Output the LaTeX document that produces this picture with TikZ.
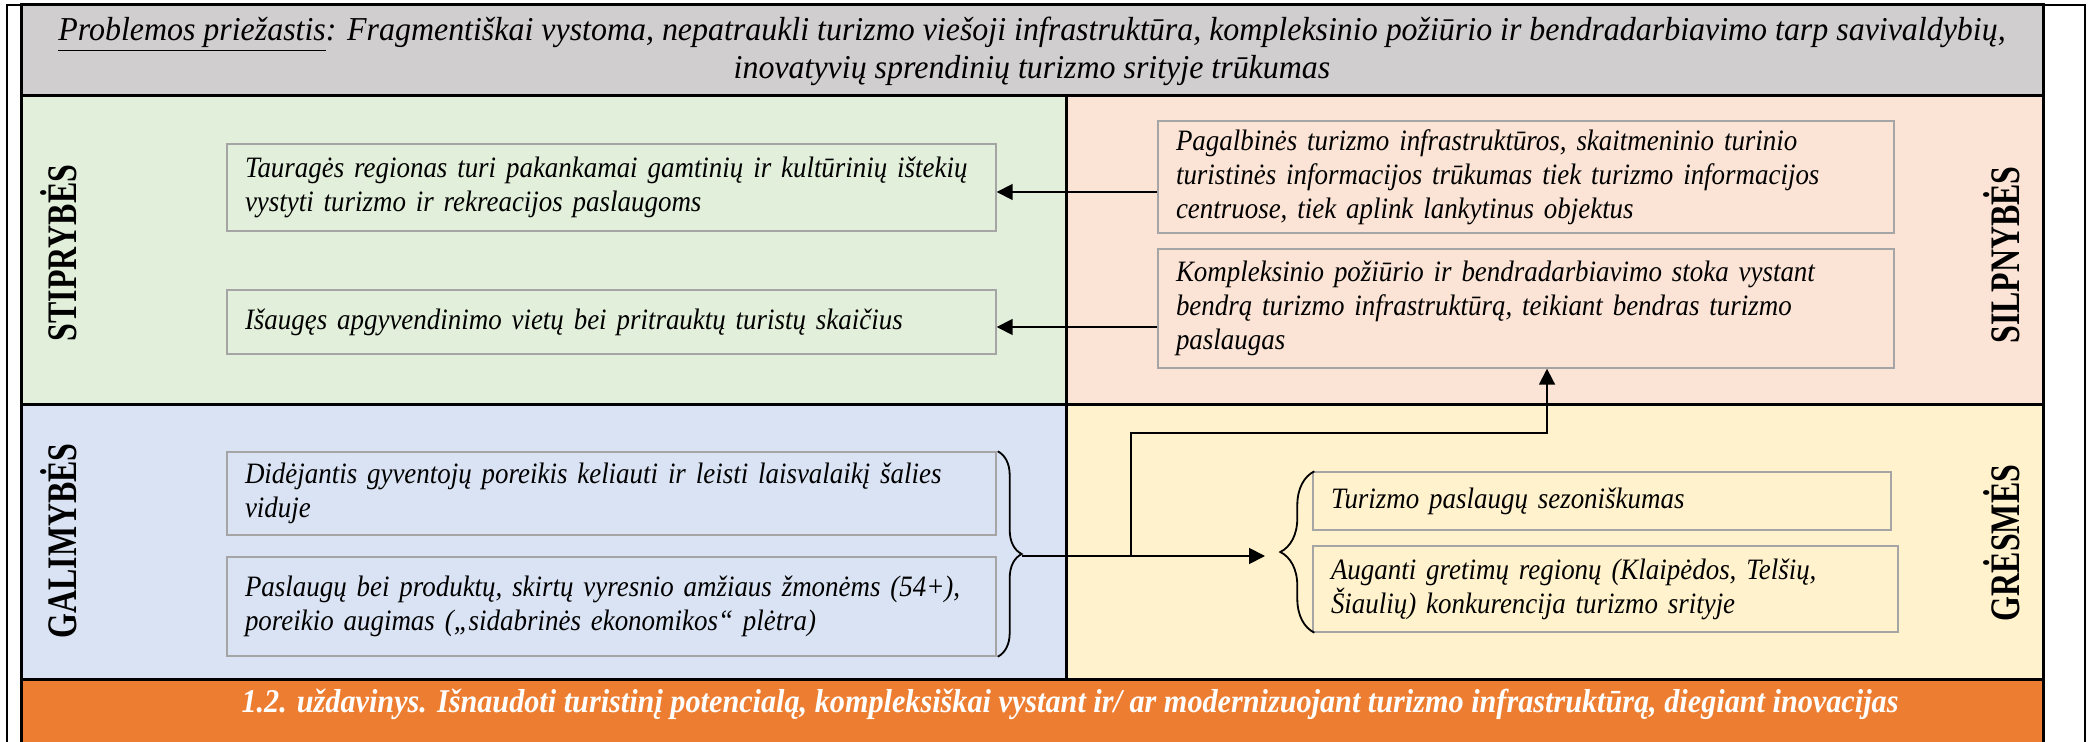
\documentclass[tikz,border=0pt]{standalone}
\usepackage{fontspec}
\setmainfont{Liberation Serif}
\newfontfamily\bodyfont{Liberation Serif}[FakeStretch=0.91]
\newfontfamily\titlefont{Liberation Serif}[FakeStretch=0.956]
\newfontfamily\labelfont{Liberation Serif}[FakeStretch=0.76]
\usetikzlibrary{arrows.meta,decorations.pathreplacing}
\definecolor{titlegray}{RGB}{208,206,206}
\definecolor{sgreen}{RGB}{226,239,218}
\definecolor{wpink}{RGB}{251,228,213}
\definecolor{oblue}{RGB}{218,227,243}
\definecolor{tyellow}{RGB}{255,242,204}
\definecolor{borange}{RGB}{237,125,49}
\definecolor{boxgray}{RGB}{165,165,165}
\begin{document}
\begin{tikzpicture}[x=0.5pt,y=-0.5pt,
  region/.style={draw=black,line width=1.5pt},
  item/.style={draw=boxgray,line width=0.7pt,inner xsep=9pt,inner ysep=0pt,align=left,
    font=\bodyfont\itshape\fontsize{14.8}{17}\selectfont},
  vlabel/.style={rotate=90,font=\labelfont\bfseries\fontsize{21}{21}\selectfont},
  conn/.style={line width=0.9pt},
  arr/.style={conn,-{Triangle[length=8pt,width=8pt]}},
  bracestyle/.style={line width=0.9pt,decorate,decoration={brace,amplitude=#1}},
]
\useasboundingbox (0,0) rectangle (2096,742);
\fill[white] (0,0) rectangle (2096,742);
% regions
\draw[region,fill=titlegray] (21,5) rectangle (2043,96);
\draw[region,fill=sgreen] (21,96) rectangle (1066,405);
\draw[region,fill=wpink] (1066,96) rectangle (2043,405);
\draw[region,fill=oblue] (21,405) rectangle (1066,679);
\draw[region,fill=tyellow] (1066,405) rectangle (2043,679);
\draw[region,fill=borange] (21,679) rectangle (2043,760);
\draw[line width=0.9pt] (7,760) -- (7,5) -- (2085,5) -- (2085,760);
% title
\node[align=center,font=\titlefont\itshape\fontsize{16.7}{19}\selectfont] (title) at (1032,51)
 {\underline{Problemos priežastis}: Fragmentiškai vystoma, nepatraukli turizmo viešoji infrastruktūra, kompleksinio požiūrio ir bendradarbiavimo tarp savivaldybių,\\
 inovatyvių sprendinių turizmo srityje trūkumas};
% labels
\node[vlabel] (ls) at (59,253) {STIPRYBĖS};
\node[vlabel] (lg) at (59,541) {GALIMYBĖS};
\node[vlabel] (lw) at (2002,255) {SILPNYBĖS};
\node[vlabel] (lt) at (2002,543) {GRĖSMĖS};
% items
\node[item,minimum width=384.5pt,minimum height=43.5pt,text width=366.5pt] (g1) at (611.5,187.5)
 {Tauragės regionas turi pakankamai gamtinių ir kultūrinių ištekių\\vystyti turizmo ir rekreacijos paslaugoms};
\node[item,minimum width=384.5pt,minimum height=32pt,text width=366.5pt] (g2) at (611.5,322)
 {Išaugęs apgyvendinimo vietų bei pritrauktų turistų skaičius};
\node[item,minimum width=368pt,minimum height=56pt,text width=350pt] (p1) at (1526,177)
 {Pagalbinės turizmo infrastruktūros, skaitmeninio turinio\\turistinės informacijos trūkumas tiek turizmo informacijos\\centruose, tiek aplink lankytinus objektus};
\node[item,minimum width=368pt,minimum height=59.5pt,text width=350pt] (p2) at (1526,308.5)
 {Kompleksinio požiūrio ir bendradarbiavimo stoka vystant\\bendrą turizmo infrastruktūrą, teikiant bendras turizmo\\paslaugas};
\node[item,minimum width=384.5pt,minimum height=41.5pt,text width=366.5pt] (b1) at (611.5,493.5)
 {Didėjantis gyventojų poreikis keliauti ir leisti laisvalaikį šalies\\viduje};
\node[item,minimum width=384.5pt,minimum height=49.5pt,text width=366.5pt] (b2) at (611.5,606.5)
 {Paslaugų bei produktų, skirtų vyresnio amžiaus žmonėms (54+),\\poreikio augimas („sidabrinės ekonomikos“ plėtra)};
\node[item,minimum width=289pt,minimum height=29pt,text width=271pt] (y1) at (1602,501)
 {Turizmo paslaugų sezoniškumas};
\node[item,minimum width=292.5pt,minimum height=43pt,text width=274.5pt] (y2) at (1605.5,589)
 {Auganti gretimų regionų (Klaipėdos, Telšių,\\Šiaulių) konkurencija turizmo srityje};
% task
\node[text=white,font=\bodyfont\bfseries\itshape\fontsize{16.6}{19}\selectfont] (task) at (1070,704)
 {1.2. uždavinys. Išnaudoti turistinį potencialą, kompleksiškai vystant ir/ ar modernizuojant turizmo infrastruktūrą, diegiant inovacijas};
% arrows weaknesses -> strengths
\draw[arr] (p1.west |- 0,192) -- (g1.east |- 0,192);
\draw[arr] (p2.west |- 0,327) -- (g2.east |- 0,327);
% braces
\draw[bracestyle=12pt] ([xshift=0.5pt]b1.north east) -- ([xshift=0.5pt]b2.south east);
\draw[bracestyle=17pt] ([xshift=1pt]y2.south west) -- ([xshift=1pt]y1.north west);
% connectors
\coordinate (gt) at (1022,556);
\coordinate (yt) at (1265,556);
\coordinate (jn) at (1131,556);
\coordinate (up) at (1547,433);
\draw[arr] (gt) -- (yt);
\draw[arr] (jn) |- (up) -- (up |- p2.south);
\end{tikzpicture}
\end{document}
